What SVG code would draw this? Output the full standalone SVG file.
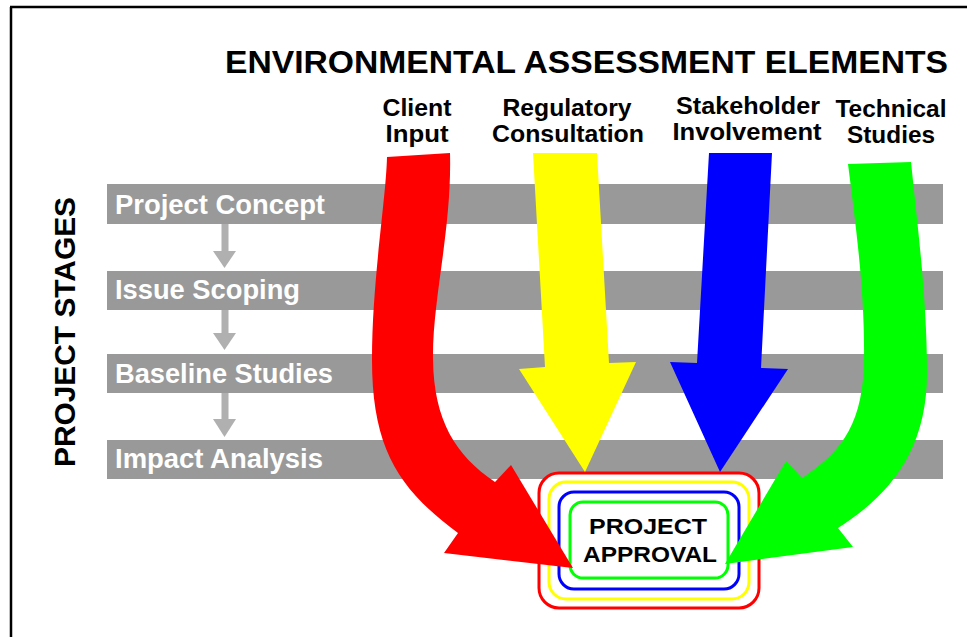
<svg xmlns="http://www.w3.org/2000/svg" width="967" height="637" viewBox="0 0 967 637">
<style>
.bar{fill:#999999}
.stg{font-family:"Liberation Sans",Arial,sans-serif;font-weight:bold;font-size:27px;fill:#ffffff}
.hdr{font-family:"Liberation Sans",Arial,sans-serif;font-weight:bold;font-size:23px;fill:#000000;text-anchor:middle}
.ttl{font-family:"Liberation Sans",Arial,sans-serif;font-weight:bold;font-size:32px;fill:#000000}
.box{font-family:"Liberation Sans",Arial,sans-serif;font-weight:bold;font-size:22px;fill:#000000;text-anchor:middle}
.sm{fill:#b0b0b0}
.ring{fill:none;stroke-width:3}
</style>
<rect x="0" y="0" width="967" height="637" fill="#ffffff"/>
<path d="M10,7 H967 M11,7 V637" fill="none" stroke="#000000" stroke-width="2.5"/>

<g id="title">
<text class="ttl" x="225" y="73" textLength="723" lengthAdjust="spacingAndGlyphs">ENVIRONMENTAL ASSESSMENT ELEMENTS</text>
</g>
<g id="stages-label">
<text class="ttl" transform="translate(75,467) rotate(-90)" style="font-size:30px" textLength="270" lengthAdjust="spacingAndGlyphs">PROJECT STAGES</text>
</g>

<g id="stage-concept">
<rect class="bar" x="107" y="184" width="836" height="40"/>
<text class="stg" x="115" y="214" textLength="210" lengthAdjust="spacingAndGlyphs">Project Concept</text>
</g>
<g id="stage-scoping">
<rect class="bar" x="107" y="271" width="836" height="39"/>
<text class="stg" x="115" y="299" textLength="185" lengthAdjust="spacingAndGlyphs">Issue Scoping</text>
</g>
<g id="stage-baseline">
<rect class="bar" x="107" y="354" width="836" height="39"/>
<text class="stg" x="115" y="383" textLength="218" lengthAdjust="spacingAndGlyphs">Baseline Studies</text>
</g>
<g id="stage-impact">
<rect class="bar" x="107" y="440" width="836" height="39"/>
<text class="stg" x="115" y="468" textLength="208" lengthAdjust="spacingAndGlyphs">Impact Analysis</text>
</g>

<g id="element-client">
<text class="hdr" x="417" y="116" textLength="69" lengthAdjust="spacingAndGlyphs">Client</text>
<text class="hdr" x="417" y="142" textLength="63" lengthAdjust="spacingAndGlyphs">Input</text>
</g>
<g id="element-regulatory">
<text class="hdr" x="567" y="116" textLength="129" lengthAdjust="spacingAndGlyphs">Regulatory</text>
<text class="hdr" x="568" y="142" textLength="152" lengthAdjust="spacingAndGlyphs">Consultation</text>
</g>
<g id="element-stakeholder">
<text class="hdr" x="748" y="114" textLength="144" lengthAdjust="spacingAndGlyphs">Stakeholder</text>
<text class="hdr" x="747" y="140" textLength="149" lengthAdjust="spacingAndGlyphs">Involvement</text>
</g>
<g id="element-technical">
<text class="hdr" x="891" y="117" textLength="111" lengthAdjust="spacingAndGlyphs">Technical</text>
<text class="hdr" x="891" y="143" textLength="88" lengthAdjust="spacingAndGlyphs">Studies</text>
</g>

<g id="approval">
<rect x="539" y="473" width="220" height="135" rx="20" fill="#ffffff" stroke="#ff0000" stroke-width="3"/>
<rect class="ring" x="549" y="482" width="200" height="117" rx="17" stroke="#ffff00"/>
<rect class="ring" x="559" y="492" width="180" height="97" rx="15" stroke="#0000ff"/>
<rect class="ring" x="570" y="502" width="158" height="76" rx="13" stroke="#00ff00"/>
<text class="box" x="648" y="534" textLength="118" lengthAdjust="spacingAndGlyphs">PROJECT</text>
<text class="box" x="650" y="562" textLength="134" lengthAdjust="spacingAndGlyphs">APPROVAL</text>
</g>

<g id="connectors">
<g id="stage-arrows">
<rect class="sm" x="221.5" y="224" width="7" height="28"/>
<polygon class="sm" points="213,251 236,251 224.5,268"/>
<rect class="sm" x="221.5" y="310" width="7" height="24"/>
<polygon class="sm" points="213,333 236,333 224.5,350"/>
<rect class="sm" x="221.5" y="393" width="7" height="27"/>
<polygon class="sm" points="213,419 236,419 224.5,437"/>
</g>
<path id="arrow-client" fill="#ff0000" d="M387,157 L450,153 C452,230 432,300 433,360 C434,420 455,455 495,482 L511,465 L573,568 L444,553 L458,533 C400,490 372,450 372,360 C372,280 386,200 387,157 Z"/>
<polygon id="arrow-regulatory" fill="#ffff00" points="533,153 597,153 609,363 636,362 585,472 519,369 545,367"/>
<polygon id="arrow-stakeholder" fill="#0000ff" points="709,153 772,153 761,368 788,369 720,472 670,362 697,363"/>
<path id="arrow-technical" fill="#00ff00" d="M848,164 L911,162 C918,230 927,300 927,373 C927,450 890,495 838,528 L853,547 L725,564 L786,461 L802,478 C845,450 863,420 864,360 C865,290 855,220 848,164 Z"/>
</g>
</svg>
